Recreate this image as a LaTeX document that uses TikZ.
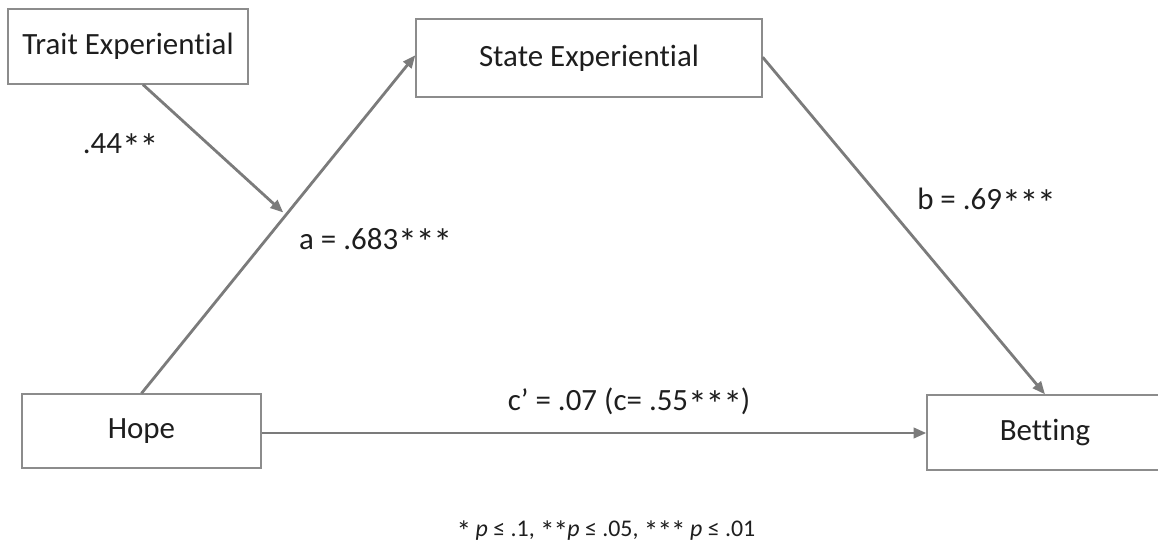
\documentclass[tikz,border=0pt]{standalone}
\usepackage{fontspec}
\setmainfont[Ligatures=NoCommon]{Carlito}
\usetikzlibrary{arrows.meta,positioning,calc}
\definecolor{pathgray}{HTML}{7B7B7B}
\definecolor{boxline}{HTML}{8C8C8C}
\definecolor{darktext}{HTML}{1E1E1E}
\newcommand{\sigstar}{\raisebox{-0.45ex}{\scalebox{1.22}{*}}\kern-0.04em}
\tikzset{
  varnode/.style={draw=boxline,line width=0.9pt,fill=white,inner sep=0pt,align=center,text=darktext,font=\fontsize{22}{26}\selectfont},
  arrow/.style={-{Triangle[length=3.2mm,width=2.6mm]},line width=2pt,pathgray},
  label/.style={text=darktext,font=\fontsize{22}{26}\selectfont}
}

\begin{document}
\begin{tikzpicture}[
  x=0.025cm,y=-0.025cm,
  note/.style={text=darktext,font=\fontsize{17}{20}\selectfont}
]
  \useasboundingbox (0,0) rectangle (1158,552);

  \node[varnode,minimum width=6cm,minimum height=1.875cm] (trait) at (128,46.5) {Trait Experiential};
  \node[varnode,minimum width=8.65cm,minimum height=1.95cm] (state) at (589,58) {State Experiential};
  \node[varnode,minimum width=5.975cm,minimum height=1.85cm] (hope) at (141.5,431) {Hope};
  \node[varnode,minimum width=5.9cm,minimum height=1.875cm] (bet) at (1045,432.5) {Betting};

  % Paths
  \draw[arrow] (hope.north) -- ([yshift=0.07cm]state.west);
  \coordinate (mod) at ($(hope.north)!0.535!([yshift=0.07cm]state.west)$);
  \draw[arrow] ([xshift=0.375cm]trait.south) -- ([xshift=-0.12cm]mod);
  \draw[arrow] ([yshift=0.02cm]state.east) -- (bet.north);
  \draw[arrow] ([yshift=-0.05cm]hope.east) -- ([yshift=-0.05cm]hope.east -| bet.west);

  % Coefficients
  \node[label] (w) at (120,147) {.44\sigstar\sigstar};
  \node[label] (a) at (375,242) {a = .683\sigstar\sigstar\sigstar};
  \node[label] (b) at (986,202) {b = .69\sigstar\sigstar\sigstar};
  \node[label] (c) at (629,403) {c’ = .07 (c= .55\sigstar\sigstar\sigstar)};

  \node[note] (sig) at (606,531) {\sigstar{} \textit{p} ≤ .1, \sigstar\sigstar\textit{p} ≤ .05, \sigstar\sigstar\sigstar{} \textit{p} ≤ .01};
\end{tikzpicture}
\end{document}
